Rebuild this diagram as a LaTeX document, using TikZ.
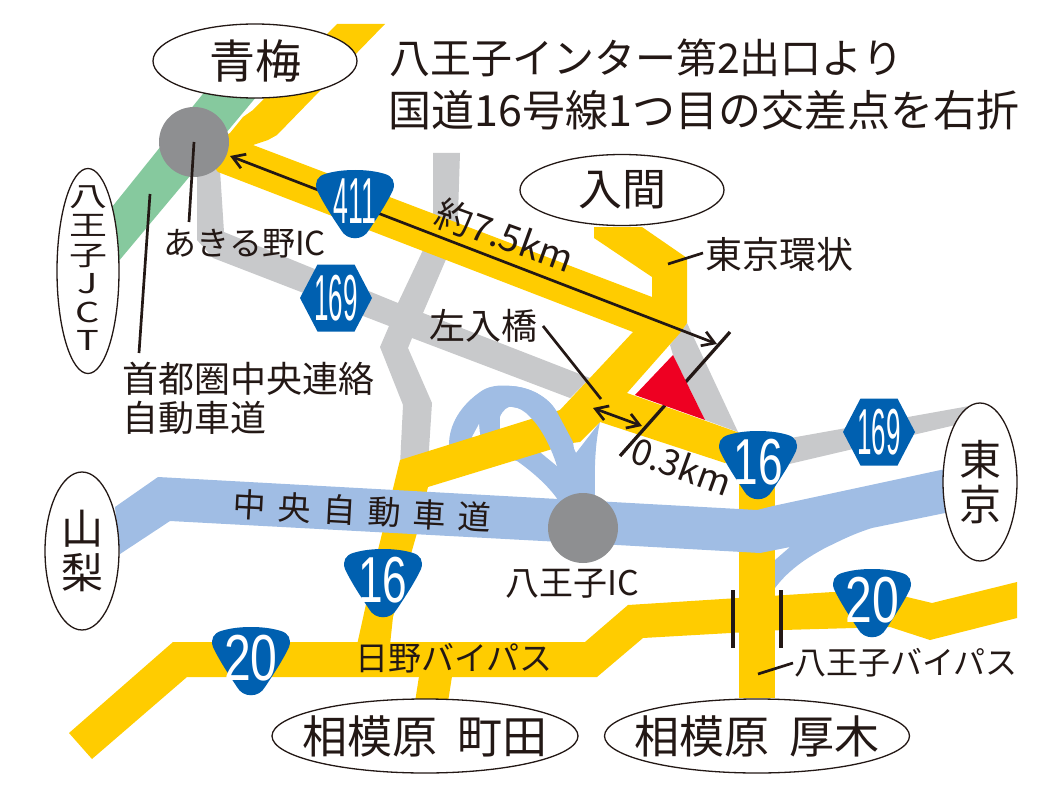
\documentclass[tikz,border=0pt]{standalone}
\usepackage{fontspec}
\usetikzlibrary{arrows.meta,shapes.geometric}
\setmainfont{Noto Sans CJK JP}
\newfontfamily\shieldfont{Liberation Sans}
\definecolor{inkblack}{HTML}{231815}
\definecolor{roadyellow}{HTML}{FFCC00}
\definecolor{roadgray}{HTML}{C8C9CB}
\definecolor{roadgreen}{HTML}{86C99E}
\definecolor{roadblue}{HTML}{A0BDE4}
\definecolor{shieldblue}{HTML}{0060B0}
\definecolor{icgray}{HTML}{8E8F91}
\definecolor{markred}{HTML}{EE0022}
\tikzset{
  place/.style={draw=inkblack,line width=1.3pt,fill=white,ellipse,inner sep=-12pt,text=inkblack},
  icdot/.style={circle,fill=icgray,minimum size=70pt,inner sep=0pt},
  leader/.style={draw=inkblack,line width=2.7pt},
  measure/.style={draw=inkblack,line width=2.7pt,{Straight Barb[length=12pt,width=15pt]}-{Straight Barb[length=12pt,width=15pt]}},
  tickbar/.style={draw=inkblack,line width=4pt},
  label/.style={text=inkblack,inner sep=0pt},
  shieldnum/.style={text=white,inner sep=0pt,font=\shieldfont\fontsize{65}{65}\selectfont},
  pics/routeshield/.style 2 args={code={
    \fill[shieldblue] (0,0) .. controls (12,0) and (22,1.5) .. (30,4) .. controls (37,6) and (41,12) .. (38,20)
      .. controls (32,33) and (22,48) .. (14,60) .. controls (8,71) and (-8,71) .. (-14,60)
      .. controls (-22,48) and (-32,33) .. (-38,20) .. controls (-41,12) and (-37,6) .. (-30,4)
      .. controls (-22,1.5) and (-12,0) .. (0,0) -- cycle;
    \node[shieldnum] (-num) at (0,31) {\scalebox{#2}[1]{#1}};
  }},
  pics/hexshield/.style 2 args={code={
    \fill[shieldblue] (-36,0) -- (-18.5,-33.5) -- (18.5,-33.5) -- (36,0) -- (18.5,33.5) -- (-18.5,33.5) -- cycle;
    \node[shieldnum] (-num) at (0,0) {\scalebox{#2}[1]{#1}};
  }},
}
\begin{document}
\begin{tikzpicture}[x=1pt,y=-1pt]
\useasboundingbox (0,0) rectangle (1063,797);

\fill[roadgreen] (210,85) -- (262,90) -- (118,262) -- (100,230) -- (112,207) -- cycle;

\fill[roadgray] (197,170) -- (220,170) -- (224,232) -- (398,303) -- (423,250) -- (433,220) -- (433,153) -- (460,153) -- (458,215) -- (447,257) -- (423,313) -- (590,378) -- (570,398) -- (412,338) -- (408,348) -- (432,403) -- (428,465) -- (400,465) -- (403,405) -- (380,347) -- (389,326) -- (213,258) -- (197,240) -- cycle;
\fill[roadgray] (670,345) -- (687,323) -- (738,432) -- (705,420) -- (673,355) -- cycle;
\fill[roadgray] (785,439) -- (975,405) -- (975,420) -- (947,427) -- (785,465) -- cycle;

\fill[roadblue] (449,445) .. controls (449,425) and (460,405) .. (483,390) .. controls (492,385) and (503,385) .. (512,386)
  .. controls (535,388) and (550,400) .. (557,412) -- (576,453) -- (600,422) .. controls (596,440) and (594,460) .. (595,500) -- (558,500)
  .. controls (548,485) and (530,470) .. (517,461) -- cycle;
\fill[white] (500,417) .. controls (503,410) and (508,406) .. (512,407) .. controls (522,408) and (528,412) .. (534,422) -- (545,450) -- (500,450) -- cycle;
\fill[white] (472,437) -- (479,424) -- (481,445) -- cycle;
\fill[white] (540,452) -- (552,445) -- (557,466) -- cycle;

\fill[roadyellow] (337,24) -- (385,24) -- (277,135) -- (268,140) -- (253,145) -- (652,297) -- (652,277) -- (594,238) -- (594,227) -- (642,227) -- (687,258) -- (687,323) -- (680,333) -- (627,393) -- (737,432) -- (760,440) -- (725,463) -- (600,422) -- (580,442) -- (572,443) -- (428,487) -- (417,533) -- (393,617) -- (390,645) -- (357,645) -- (378,550) -- (400,460) -- (560,410) -- (633,332) -- (218,172) -- (200,150) -- (230,133) -- (243,117) -- (253,110) -- cycle;
\fill[roadyellow] (739,440) rectangle (775,698);
\fill[roadyellow] (69,733) -- (173,642) -- (585,642) -- (628,605) -- (833,592) -- (907,597) -- (932,603) -- (1017,582) -- (1017,618) -- (930,640) -- (890,627) -- (783,630) -- (643,638) -- (597,677) -- (187,677) -- (92,759) -- cycle;
\fill[roadyellow] (420,670) -- (453,670) -- (448,702) -- (415,702) -- cycle;

\fill[roadblue] (512,386) .. controls (535,388) and (550,400) .. (557,412) -- (573,442) -- (577,470) -- (557,466)
  .. controls (552,450) and (542,428) .. (530,417) .. controls (525,411) and (518,407) .. (512,407) -- cycle;

\fill[roadblue] (115,507) -- (158,477) -- (540,498) -- (757,510) -- (773,506) -- (950,468) -- (950,512) -- (872,528) .. controls (850,535) and (838,542) .. (827,547) .. controls (810,556) and (790,568) .. (775,588) -- (775,560) -- (790,547) -- (760,553) -- (617,545) -- (170,521) -- (120,554) -- cycle;

\node[icdot] (akiruno) at (194,142) {};
\node[icdot] (hachiojiIC) at (583,528) {};

\coordinate (akirunoEnd) at (189,222);
\draw[leader] (akiruno.center) -- (akirunoEnd);
\coordinate (kenoTop) at (150,194);
\coordinate (kenoEnd) at (139,353);
\draw[leader] (kenoTop) -- (kenoEnd);
\coordinate (longFrom) at (230,156);
\coordinate (longTo) at (717,344);
\draw[measure] (longFrom) -- (longTo);
\coordinate (tickTop) at (730,332);
\coordinate (tickLow) at (620,456);
\draw[leader,line width=3.3pt] (tickTop) -- (tickLow);
\coordinate (shortFrom) at (593,408);
\coordinate (shortTo) at (642,426);
\draw[measure] (shortFrom) -- (shortTo);
\coordinate (hashiFrom) at (543,326);
\coordinate (hashiTo) at (601,399);
\draw[leader] (hashiFrom) -- (hashiTo);
\coordinate (kanjoFrom) at (668,264);
\coordinate (kanjoTo) at (703,253);
\draw[leader] (kanjoFrom) -- (kanjoTo);
\coordinate (bypassFrom) at (758,674);
\coordinate (bypassTo) at (793,663);
\draw[leader] (bypassFrom) -- (bypassTo);
\coordinate (barLeftTop) at (733,590);
\coordinate (barLeftLow) at (733,648);
\draw[tickbar] (barLeftTop) -- (barLeftLow);
\coordinate (barRightTop) at (781,590);
\coordinate (barRightLow) at (781,648);
\draw[tickbar] (barRightTop) -- (barRightLow);

\fill[markred] (673,355) -- (705,420) -- (635,395) -- cycle;

\pic (sA) at (355,170) {routeshield={411}{0.41}};
\pic (sB) at (758,431) {routeshield={16}{0.68}};
\pic (sC) at (383,549) {routeshield={16}{0.68}};
\pic (sD) at (251,627) {routeshield={20}{0.74}};
\pic (sE) at (872,569) {routeshield={20}{0.74}};
\pic (hA) at (336,298) {hexshield={169}{0.40}};
\pic (hB) at (879,432) {hexshield={169}{0.40}};

\node[place,minimum width=204pt,minimum height=74pt,font=\fontsize{46}{46}\selectfont] (oume) at (255,61) {青梅};
\node[place,minimum width=62pt,minimum height=205pt] (jct) at (88,271) {};
\node[label,align=center,font=\fontsize{38}{38}\selectfont] (jctText) at (88,272) {\scalebox{1}[.72]{\begin{tabular}{@{}c@{}}八\\王\\子\\J\\C\\T\end{tabular}}};
\node[place,minimum width=204pt,minimum height=71pt,font=\fontsize{44}{44}\selectfont] (iruma) at (622,190) {\raisebox{3pt}{入間}};
\node[place,minimum width=74pt,minimum height=158pt,align=center,font=\fontsize{42}{44}\selectfont] (yamanashi) at (82,551) {山\\梨};
\node[place,minimum width=74pt,minimum height=158pt,align=center,font=\fontsize{42}{45}\selectfont] (tokyo) at (980,482) {東\\京};
\node[place,inner sep=-22pt,minimum width=306pt,minimum height=74pt,font=\fontsize{45}{45}\selectfont] (machida) at (425,736) {相模原\hspace{20pt}町田};
\node[place,inner sep=-22pt,minimum width=305pt,minimum height=74pt,font=\fontsize{45}{45}\selectfont] (atsugi) at (757,736) {相模原\hspace{20pt}厚木};

\node[label,font=\fontsize{41}{41}\selectfont] (titleA) at (646,58) {八王子インター第2出口より};
\node[label,font=\fontsize{43}{43}\selectfont] (titleB) at (704,110) {国道16号線1つ目の交差点を右折};
\node[label,font=\fontsize{33}{33}\selectfont] (akirunoText) at (245,244) {あきる野IC};
\node[label,font=\fontsize{37}{37}\selectfont,rotate=-20] (longText) at (505,236) {約7.5km};
\node[label,font=\fontsize{36}{36}\selectfont,rotate=-20] (shortText) at (682,466) {0.3km};
\node[label,font=\fontsize{37}{37}\selectfont] (kanjoText) at (779,254) {東京環状};
\node[label,font=\fontsize{36}{36}\selectfont] (hashiText) at (483,326) {左入橋};
\node[label,anchor=west,align=left,font=\fontsize{36}{39}\selectfont] (kenoText) at (122,398) {首都圏中央連絡\\自動車道};
\node[label,font=\fontsize{33}{33}\selectfont,rotate=-3] (chuoText) at (362,511) {中\hspace{12pt}央\hspace{12pt}自\hspace{12pt}動\hspace{12pt}車\hspace{12pt}道};
\node[label,font=\fontsize{34}{34}\selectfont] (icText) at (572,584) {八王子IC};
\node[label,font=\fontsize{33}{33}\selectfont] (hinoText) at (454,658) {日野バイパス};
\node[label,font=\fontsize{32}{32}\selectfont] (bypassText) at (906,663) {八王子バイパス};
\end{tikzpicture}
\end{document}
